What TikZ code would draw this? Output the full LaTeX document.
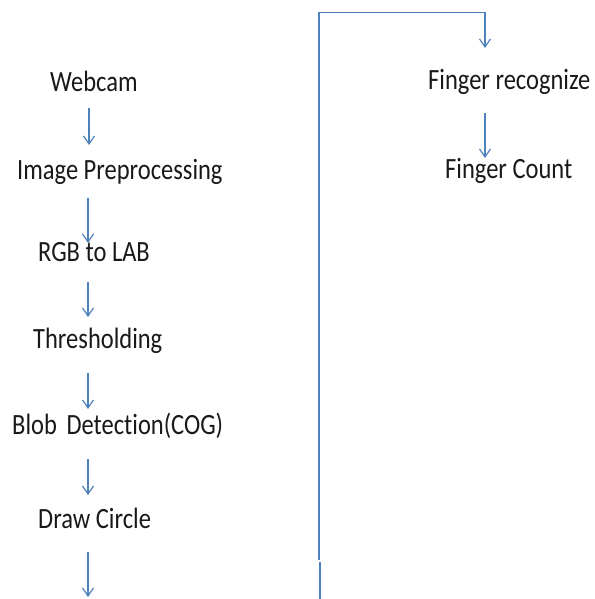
\documentclass[tikz,border=0pt]{standalone}
\usepackage{fontspec}
\setmainfont{Carlito}[Ligatures={NoCommon,NoContextual}]
\usetikzlibrary{arrows.meta}
\definecolor{flowblue}{RGB}{79,129,189}

\begin{document}
\begin{tikzpicture}[x=1pt,y=-1pt,
  lbl/.style={anchor=base west,inner sep=0pt,yscale=1.2,
    font=\fontsize{24.5}{28}\selectfont,text=black!90},
  flow/.style={draw=flowblue,line width=1.2pt,-{Straight Barb[length=8pt,width=11pt]}},
  wire/.style={draw=flowblue,line width=1.2pt}]
\useasboundingbox (0,0) rectangle (594,599);

% left column
\node[lbl] (web) at (50,92) {Webcam};
\node[lbl] (pre) at (17,179) {Image Preprocessing};
\node[lbl] (rgb) at (38,261) {RGB to LAB};
\node[lbl] (thr) at (33,348) {Thresholding};
\node[lbl] (blob) at (12,434) {Blob\, Detect\kern0pt ion(COG)};
\node[lbl] (circ) at (38,528) {Draw Circle};

\coordinate (a1) at (89,108);  \coordinate (b1) at (89,145);
\coordinate (a2) at (88,198);  \coordinate (b2) at (88,243);
\coordinate (a3) at (88,282);  \coordinate (b3) at (88,317);
\coordinate (a4) at (88,373);  \coordinate (b4) at (88,409);
\coordinate (a5) at (88,459);  \coordinate (b5) at (88,495);
\coordinate (a6) at (88,552);  \coordinate (b6) at (88,597);
\path[flow] (a1) -- (b1);
\path[flow] (a2) -- (b2);
\path[flow] (a3) -- (b3);
\path[flow] (a4) -- (b4);
\path[flow] (a5) -- (b5);
\path[flow] (a6) -- (b6);

% return line to the right column
\coordinate (up) at (319,560);
\coordinate (top) at (319,12.5);
\coordinate (turn) at (485,12.5);
\coordinate (drop) at (485,48);
\coordinate (stub) at (320,562);
\coordinate (stubend) at (320,599);
\path[wire] (stub) -- (stubend);
\path[flow] (up) -- (top) -- (turn) -- (drop);

% right column
\node[lbl] (rec) at (428,90) {Finger recognize};
\node[lbl] (cnt) at (445,178) {Finger Count};
\coordinate (a7) at (485,113); \coordinate (b7) at (485,158);
\path[flow] (a7) -- (b7);
\end{tikzpicture}
\end{document}
